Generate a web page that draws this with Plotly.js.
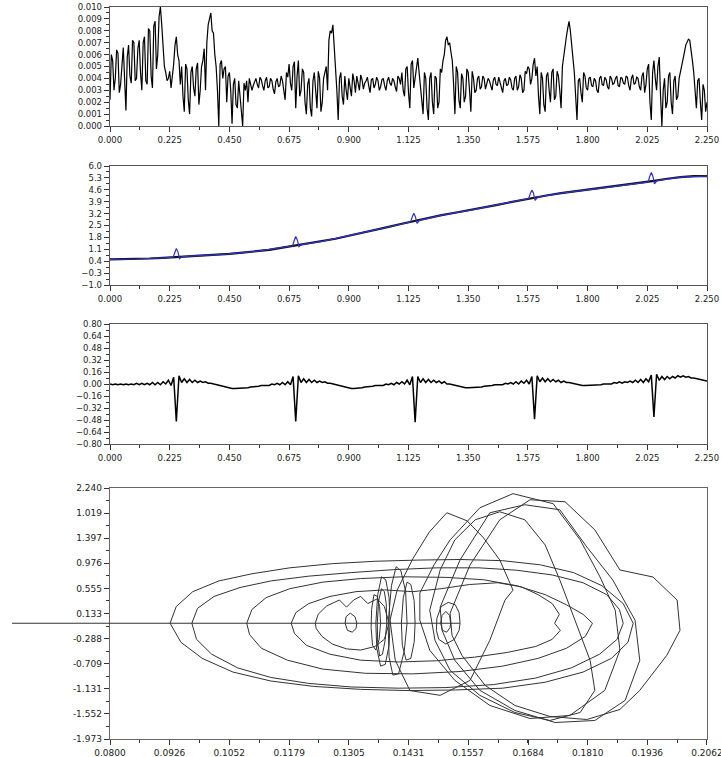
<!DOCTYPE html>
<html>
<head>
<meta charset="utf-8">
<script src="https://cdn.plot.ly/plotly-3.0.1.min.js"></script>
<style>html,body{margin:0;padding:0;background:#fff;}#chart{width:721px;height:757px;}</style>
</head>
<body>
<div id="chart"></div>
<script>
// ---------- Panel 1: noisy signal (x0 = 0, step 0.005) ----------
const p1Signal = [
0.0022,0.0060,0.0055,0.0030,0.0040,0.0064,0.0061,0.0028,0.0035,0.0052,0.0066,0.0040,0.0013,0.0058,0.0068,0.0042,0.0036,0.0072,0.0070,0.0038,
0.0040,0.0065,0.0072,0.0045,0.0030,0.0070,0.0075,0.0038,0.0035,0.0082,0.0080,0.0042,0.0032,0.0084,0.0088,0.0048,0.0060,0.0092,0.0100,0.0085,
0.0070,0.0050,0.0045,0.0038,0.0040,0.0046,0.0032,0.0042,0.0052,0.0068,0.0075,0.0060,0.0055,0.0035,0.0050,0.0025,0.0012,0.0052,0.0048,0.0022,
0.0010,0.0045,0.0050,0.0032,0.0025,0.0048,0.0053,0.0018,0.0030,0.0050,0.0055,0.0065,0.0030,0.0070,0.0085,0.0090,0.0095,0.0080,0.0078,0.0060,
0.0050,0.0030,0.0000,0.0052,0.0055,0.0040,0.0048,0.0050,0.0020,0.0042,0.0045,0.0030,0.0002,0.0035,0.0040,0.0018,0.0015,0.0038,0.0025,0.0012,
0.0000,0.0036,0.0030,0.0038,0.0020,0.0040,0.0036,0.0030,0.0034,0.0037,0.0040,0.0035,0.0032,0.0041,0.0039,0.0034,0.0030,0.0038,0.0041,0.0032,
0.0033,0.0040,0.0038,0.0031,0.0027,0.0037,0.0040,0.0033,0.0034,0.0042,0.0038,0.0030,0.0022,0.0045,0.0041,0.0052,0.0036,0.0030,0.0050,0.0054,
0.0015,0.0042,0.0055,0.0025,0.0030,0.0048,0.0045,0.0020,0.0010,0.0035,0.0040,0.0015,0.0008,0.0038,0.0045,0.0030,0.0015,0.0046,0.0040,0.0012,
0.0020,0.0040,0.0045,0.0050,0.0030,0.0072,0.0080,0.0078,0.0085,0.0068,0.0045,0.0030,0.0005,0.0040,0.0045,0.0025,0.0018,0.0042,0.0030,0.0022,
0.0040,0.0030,0.0025,0.0044,0.0038,0.0028,0.0042,0.0036,0.0030,0.0043,0.0039,0.0031,0.0036,0.0038,0.0041,0.0034,0.0028,0.0039,0.0040,0.0032,
0.0035,0.0041,0.0038,0.0030,0.0033,0.0039,0.0040,0.0034,0.0030,0.0038,0.0041,0.0036,0.0034,0.0040,0.0038,0.0033,0.0029,0.0042,0.0040,0.0035,
0.0045,0.0030,0.0025,0.0048,0.0050,0.0028,0.0015,0.0052,0.0055,0.0032,0.0040,0.0050,0.0057,0.0045,0.0035,0.0020,0.0010,0.0045,0.0040,0.0015,
0.0005,0.0040,0.0045,0.0020,0.0010,0.0042,0.0040,0.0015,0.0020,0.0048,0.0045,0.0055,0.0060,0.0072,0.0075,0.0068,0.0070,0.0062,0.0055,0.0035,
0.0010,0.0050,0.0045,0.0022,0.0015,0.0044,0.0040,0.0020,0.0025,0.0048,0.0045,0.0030,0.0012,0.0046,0.0040,0.0028,0.0030,0.0040,0.0042,0.0031,
0.0033,0.0042,0.0040,0.0031,0.0036,0.0040,0.0038,0.0033,0.0030,0.0039,0.0041,0.0035,0.0034,0.0041,0.0037,0.0032,0.0028,0.0038,0.0040,0.0034,
0.0035,0.0041,0.0039,0.0032,0.0030,0.0040,0.0042,0.0030,0.0033,0.0043,0.0040,0.0028,0.0030,0.0046,0.0044,0.0050,0.0048,0.0035,0.0040,0.0052,
0.0057,0.0042,0.0050,0.0025,0.0010,0.0045,0.0040,0.0018,0.0012,0.0042,0.0045,0.0030,0.0020,0.0045,0.0048,0.0022,0.0025,0.0046,0.0042,0.0030,
0.0015,0.0050,0.0060,0.0068,0.0075,0.0082,0.0088,0.0080,0.0070,0.0060,0.0045,0.0025,0.0005,0.0038,0.0040,0.0028,0.0020,0.0045,0.0042,0.0032,
0.0030,0.0040,0.0041,0.0034,0.0033,0.0040,0.0038,0.0030,0.0028,0.0040,0.0042,0.0035,0.0034,0.0041,0.0039,0.0033,0.0031,0.0042,0.0040,0.0035,
0.0036,0.0040,0.0042,0.0034,0.0033,0.0041,0.0040,0.0036,0.0035,0.0042,0.0041,0.0034,0.0030,0.0040,0.0043,0.0035,0.0036,0.0041,0.0040,0.0033,
0.0030,0.0042,0.0045,0.0028,0.0035,0.0048,0.0052,0.0020,0.0005,0.0045,0.0055,0.0040,0.0030,0.0050,0.0058,0.0025,0.0000,0.0030,0.0040,0.0015,
0.0020,0.0042,0.0045,0.0020,0.0010,0.0038,0.0042,0.0022,0.0025,0.0040,0.0045,0.0050,0.0055,0.0062,0.0068,0.0070,0.0073,0.0072,0.0065,0.0055,
0.0045,0.0030,0.0015,0.0038,0.0040,0.0020,0.0005,0.0035,0.0030,0.0012,0.0020];

// ---------- Panel 2: black trend (x0 = 0, step 0.05) and blue curve ----------
const p2Black = [0.51,0.52,0.53,0.56,0.60,0.64,0.68,0.73,0.78,0.83,0.90,0.98,1.07,1.20,1.33,1.44,1.57,1.72,1.90,2.06,
2.24,2.42,2.60,2.78,2.95,3.11,3.25,3.38,3.52,3.68,3.84,4.00,4.15,4.28,4.40,4.50,4.60,4.70,4.80,4.90,
5.00,5.12,5.25,5.35,5.40,5.41];
const p2BlueX = [0,0.1,0.2,0.238,0.244,0.250,0.256,0.262,0.272,0.35,0.45,0.55,0.65,0.688,0.694,0.700,0.706,0.712,0.722,
0.8,0.9,1.0,1.1,1.133,1.139,1.145,1.151,1.157,1.167,1.25,1.35,1.45,1.55,1.578,1.584,1.590,1.596,1.602,1.612,
1.7,1.8,1.9,2.0,2.028,2.034,2.040,2.046,2.052,2.062,2.15,2.25];
const p2BlueY = [0.51,0.53,0.60,0.63,0.90,1.15,0.95,0.55,0.67,0.73,0.83,0.98,1.20,1.31,1.60,1.85,1.65,1.25,1.38,
1.57,1.90,2.24,2.60,2.70,3.00,3.22,3.02,2.62,2.80,3.11,3.38,3.68,4.00,4.09,4.38,4.58,4.40,3.98,4.17,
4.40,4.60,4.80,5.00,5.05,5.38,5.62,5.40,4.95,5.14,5.35,5.41];

// ---------- Panel 3: spiky signal (x0 = 0, step 0.01) ----------
const p3Signal = [
0.00,-0.01,0.00,-0.01,0.00,-0.01,0.00,-0.01,0.00,-0.01,
0.01,-0.01,0.01,-0.01,0.01,-0.01,0.02,-0.01,0.02,-0.01,
0.03,0.00,0.05,-0.02,0.09,-0.50,0.11,0.02,0.07,0.02,
0.06,0.02,0.05,0.02,0.04,0.02,0.03,0.01,0.01,0.00,
-0.01,-0.02,-0.03,-0.04,-0.05,-0.05,-0.06,-0.06,-0.06,-0.06,
-0.06,-0.05,-0.05,-0.04,-0.04,-0.03,-0.03,-0.02,-0.02,-0.01,
-0.02,0.00,-0.01,0.01,-0.01,0.02,-0.01,0.03,-0.01,0.10,
-0.50,0.11,0.02,0.07,0.02,0.06,0.02,0.05,0.02,0.04,
0.02,0.03,0.01,0.01,0.00,-0.01,-0.02,-0.03,-0.04,-0.05,
-0.05,-0.06,-0.06,-0.06,-0.05,-0.05,-0.04,-0.04,-0.03,-0.03,
-0.02,-0.02,-0.01,-0.02,0.00,-0.01,0.01,-0.01,0.02,0.00,
0.03,0.00,0.05,-0.01,0.10,-0.51,0.10,0.02,0.07,0.02,
0.06,0.02,0.05,0.02,0.04,0.01,0.03,0.00,0.00,-0.01,
-0.02,-0.03,-0.04,-0.04,-0.05,-0.05,-0.05,-0.05,-0.04,-0.04,
-0.04,-0.03,-0.03,-0.02,-0.02,-0.01,-0.01,0.00,-0.01,0.01,
0.00,0.02,0.00,0.03,0.00,0.04,0.01,0.05,0.00,0.10,
-0.47,0.11,0.03,0.08,0.03,0.07,0.03,0.06,0.03,0.05,
0.02,0.04,0.02,0.02,0.01,0.00,0.00,-0.01,-0.02,-0.02,
-0.02,-0.02,-0.02,-0.01,-0.01,-0.01,0.00,0.00,0.01,0.00,
0.02,0.01,0.03,0.01,0.03,0.02,0.04,0.02,0.05,0.02,
0.06,0.02,0.07,0.03,0.12,-0.44,0.13,0.05,0.10,0.06,
0.10,0.07,0.10,0.08,0.11,0.09,0.11,0.09,0.10,0.08,
0.08,0.07,0.06,0.06,0.05,0.04];

// ---------- Panel 4: phase portrait loops ----------
const lineX = [0.0800,0.1540];
const lineY = [-0.03,-0.03];
const h1X = [0.0927,0.0940,0.0975,0.1030,0.1100,0.1180,0.1270,0.1360,0.1450,0.1540,0.1630,0.1710,0.1780,0.1840,0.1885,0.1906,0.1895,0.1860,0.1800,0.1720,0.1630,0.1530,0.1430,0.1330,0.1230,0.1140,0.1060,0.0995,0.0950,0.0927];
const h1Y = [-0.03,0.25,0.50,0.68,0.80,0.90,0.97,1.01,1.03,1.04,1.02,0.95,0.82,0.60,0.30,-0.03,-0.35,-0.62,-0.85,-1.02,-1.12,-1.15,-1.16,-1.14,-1.09,-1.00,-0.85,-0.62,-0.35,-0.03];
const h2X = [0.0973,0.0985,0.1020,0.1075,0.1140,0.1220,0.1310,0.1400,0.1490,0.1580,0.1660,0.1735,0.1800,0.1850,0.1877,0.1885,0.1872,0.1835,0.1775,0.1700,0.1610,0.1510,0.1410,0.1310,0.1220,0.1140,0.1070,0.1015,0.0983,0.0973];
const h2Y = [-0.03,0.22,0.42,0.57,0.68,0.76,0.82,0.87,0.90,0.90,0.86,0.78,0.65,0.45,0.20,-0.03,-0.30,-0.55,-0.78,-0.95,-1.06,-1.11,-1.12,-1.10,-1.04,-0.94,-0.78,-0.55,-0.30,-0.03];
const h3X = [0.1089,0.1100,0.1130,0.1180,0.1250,0.1330,0.1420,0.1510,0.1590,0.1660,0.1720,0.1765,0.1800,0.1820,0.1805,0.1765,0.1705,0.1630,0.1540,0.1440,0.1340,0.1250,0.1175,0.1120,0.1095,0.1089];
const h3Y = [-0.03,0.20,0.40,0.55,0.66,0.72,0.75,0.74,0.70,0.60,0.45,0.28,0.12,-0.03,-0.25,-0.45,-0.62,-0.75,-0.84,-0.88,-0.87,-0.80,-0.65,-0.45,-0.22,-0.03];
const h4X = [0.1183,0.1193,0.1220,0.1265,0.1320,0.1380,0.1440,0.1500,0.1560,0.1620,0.1670,0.1705,0.1735,0.1750,0.1740,0.1752,0.1735,0.1700,0.1640,0.1570,0.1490,0.1410,0.1330,0.1265,0.1215,0.1190,0.1183];
const h4Y = [-0.03,0.15,0.30,0.42,0.50,0.53,0.50,0.55,0.62,0.65,0.58,0.45,0.30,0.12,-0.03,-0.15,-0.30,-0.42,-0.52,-0.60,-0.66,-0.68,-0.65,-0.55,-0.40,-0.20,-0.03];
const h5X = [0.1234,0.1240,0.1258,0.1285,0.1300,0.1315,0.1330,0.1345,0.1365,0.1380,0.1390,0.1380,0.1360,0.1330,0.1300,0.1270,0.1248,0.1236,0.1234];
const h5Y = [-0.03,0.12,0.26,0.36,0.24,0.36,0.42,0.30,0.38,0.25,-0.03,-0.30,-0.42,-0.48,-0.46,-0.38,-0.25,-0.12,-0.03];
const v1X = [0.1385,0.1384,0.1380,0.1374,0.1368,0.1365,0.1366,0.1370,0.1376,0.1382,0.1385];
const v1Y = [-0.03,0.30,0.50,0.55,0.35,-0.03,-0.35,-0.58,-0.55,-0.30,-0.03];
const v2X = [0.1392,0.1390,0.1383,0.1374,0.1366,0.1362,0.1364,0.1372,0.1382,0.1390,0.1392];
const v2Y = [-0.03,0.40,0.70,0.75,0.45,-0.03,-0.45,-0.75,-0.72,-0.40,-0.03];
const v3X = [0.1428,0.1425,0.1415,0.1405,0.1395,0.1388,0.1390,0.1398,0.1410,0.1422,0.1428];
const v3Y = [-0.03,0.50,0.85,0.92,0.60,-0.03,-0.60,-0.90,-0.88,-0.50,-0.03];
const v4X = [0.1445,0.1443,0.1436,0.1428,0.1420,0.1416,0.1418,0.1426,0.1436,0.1443,0.1445];
const v4Y = [-0.03,0.35,0.62,0.66,0.40,-0.03,-0.40,-0.65,-0.62,-0.35,-0.03];
const v5X = [0.1372,0.1370,0.1365,0.1358,0.1353,0.1352,0.1355,0.1362,0.1369,0.1372];
const v5Y = [-0.03,0.25,0.42,0.45,0.20,-0.10,-0.40,-0.48,-0.30,-0.03];
const v6X = [0.1540,0.1538,0.1530,0.1515,0.1500,0.1491,0.1490,0.1495,0.1510,0.1528,0.1538,0.1540];
const v6Y = [-0.03,0.15,0.28,0.32,0.25,0.05,-0.15,-0.30,-0.38,-0.30,-0.15,-0.03];
const v7X = [0.1520,0.1518,0.1510,0.1502,0.1499,0.1503,0.1512,0.1519,0.1520];
const v7Y = [-0.03,0.10,0.17,0.10,-0.03,-0.15,-0.18,-0.10,-0.03];
const v8X = [0.1322,0.1318,0.1308,0.1299,0.1297,0.1302,0.1312,0.1320,0.1322];
const v8Y = [-0.03,0.08,0.14,0.08,-0.03,-0.15,-0.18,-0.12,-0.03];
const a1X = [0.1407,0.1440,0.1475,0.1512,0.1555,0.1590,0.1624,0.1652,0.1635,0.1603,0.1561,0.1498,0.1434,0.1403,0.1392,0.1407];
const a1Y = [0.526,1.05,1.50,1.824,1.689,1.40,1.032,0.526,0.358,-0.316,-0.99,-1.24,-1.16,-0.65,0.02,0.526];
const a2X = [0.1455,0.1485,0.1519,0.1582,0.1652,0.1737,0.1794,0.1836,0.1868,0.1878,0.1846,0.1772,0.1688,0.1603,0.1529,0.1476,0.1455,0.1455];
const a2Y = [0.476,0.95,1.369,1.909,2.145,1.976,1.369,0.746,0.190,-0.484,-1.157,-1.578,-1.629,-1.410,-0.989,-0.484,0.021,0.476];
const a3X = [0.1498,0.1540,0.1603,0.1677,0.1751,0.1808,0.1863,0.1910,0.1920,0.1889,0.1825,0.1741,0.1656,0.1582,0.1529,0.1502,0.1498];
const a3Y = [0.240,1.033,1.824,1.959,1.875,1.251,0.695,0.021,-0.653,-1.325,-1.662,-1.696,-1.494,-1.157,-0.653,-0.148,0.240];
const a4X = [0.1519,0.1561,0.1624,0.1688,0.1762,0.1825,0.1878,0.1948,0.1999,0.2005,0.1977,0.1920,0.1878,0.1808,0.1730,0.1656,0.1593,0.1544,0.1523,0.1519];
const a4Y = [0.139,0.948,1.706,2.043,2.009,1.537,0.864,0.746,0.358,-0.148,-0.569,-1.157,-1.477,-1.646,-1.595,-1.410,-1.073,-0.569,-0.232,0.139];
const a5X = [0.1476,0.1498,0.1529,0.1572,0.1624,0.1677,0.1720,0.1751,0.1783,0.1815,0.1825,0.1794,0.1730,0.1656,0.1582,0.1519,0.1487,0.1476];
const a5Y = [0.190,0.864,1.369,1.706,1.841,1.706,1.284,0.695,0.021,-0.653,-1.157,-1.528,-1.662,-1.528,-1.241,-0.821,-0.316,0.190];

// axis tick labels
const p4XTicks = [0.0800,0.0926,0.1052,0.1179,0.1305,0.1431,0.1557,0.1684,0.1810,0.1936,0.2062];
const p4XText = ["0.0800","0.0926","0.1052","0.1179","0.1305","0.1431","0.1557","0.1684","0.1810","0.1936","0.2062"];
const p4YTicks = [2.240,1.819,1.397,0.976,0.555,0.133,-0.288,-0.709,-1.131,-1.552,-1.973];
const p4YText = ["2.240","1.019","1.397","0.976","0.555","0.133","-0.288","-0.709","-1.131","-1.552","-1.973"];

const W = 721, H = 757;
const xd = [110/W, 707/W];
function yd(top, bot){ return [1 - bot/H, 1 - top/H]; }

const loopColor = '#333';
function loop(x, y){ return {x:x, y:y, xaxis:'x4', yaxis:'y4', type:'scatter', mode:'lines', line:{color:loopColor, width:1}}; }

const traces = [
  {y:p1Signal, x0:0, dx:0.005, xaxis:'x', yaxis:'y', type:'scatter', mode:'lines', line:{color:'#000', width:1.2}},
  {y:p2Black, x0:0, dx:0.05, xaxis:'x2', yaxis:'y2', type:'scatter', mode:'lines', line:{color:'#111', width:2.2}},
  {x:p2BlueX, y:p2BlueY, xaxis:'x2', yaxis:'y2', type:'scatter', mode:'lines', line:{color:'#3030d0', width:1.2}},
  {y:p3Signal, x0:0, dx:0.01, xaxis:'x3', yaxis:'y3', type:'scatter', mode:'lines', line:{color:'#000', width:1.5}},
  loop(lineX, lineY),
  loop(h1X,h1Y), loop(h2X,h2Y), loop(h3X,h3Y), loop(h4X,h4Y), loop(h5X,h5Y),
  loop(v1X,v1Y), loop(v2X,v2Y), loop(v3X,v3Y), loop(v4X,v4Y), loop(v5X,v5Y), loop(v6X,v6Y), loop(v7X,v7Y), loop(v8X,v8Y),
  loop(a1X,a1Y), loop(a2X,a2Y), loop(a3X,a3Y), loop(a4X,a4Y), loop(a5X,a5Y)
];

const tickFont = {family:'DejaVu Sans, sans-serif', size:8.5, color:'#222'};
const baseAxis = {showgrid:false, zeroline:false, showline:true, mirror:true, linecolor:'#555', linewidth:1.3,
  ticks:'outside', ticklen:5, tickwidth:1, tickcolor:'#333', tickfont:tickFont, fixedrange:true};
function xAx(domain, anchor){
  return Object.assign({}, baseAxis, {domain:domain, anchor:anchor, range:[0,2.25], tickmode:'linear', tick0:0, dtick:0.225, tickformat:'.3f',
    ticklabeloverflow:'allow',
    minor:{ticks:'outside', ticklen:3, tick0:0, dtick:0.1125, tickcolor:'#333'}});
}

const layout = {
  width:W, height:H, margin:{l:0,r:0,t:0,b:0}, showlegend:false, hovermode:false,
  paper_bgcolor:'#fff', plot_bgcolor:'#fff',
  xaxis: xAx(xd, 'y'),
  xaxis2: xAx(xd, 'y2'),
  xaxis3: xAx(xd, 'y3'),
  yaxis: Object.assign({}, baseAxis, {domain:yd(7,126), anchor:'x', range:[0,0.010], tickmode:'linear', tick0:0, dtick:0.001, tickformat:'.3f',
    minor:{ticks:'outside', ticklen:3, tick0:0, dtick:0.0005, tickcolor:'#333'}}),
  yaxis2: Object.assign({}, baseAxis, {domain:yd(166,285), anchor:'x2', range:[-1,6], tickmode:'linear', tick0:-1, dtick:0.7, tickformat:'.1f',
    minor:{ticks:'outside', ticklen:3, tick0:-1, dtick:0.35, tickcolor:'#333'}}),
  yaxis3: Object.assign({}, baseAxis, {domain:yd(324,444), anchor:'x3', range:[-0.8,0.8], tickmode:'linear', tick0:-0.8, dtick:0.16, tickformat:'.2f',
    minor:{ticks:'outside', ticklen:3, tick0:-0.8, dtick:0.08, tickcolor:'#333'}}),
  xaxis4: Object.assign({}, baseAxis, {domain:xd, anchor:'y4', range:[0.08,0.20621], tickmode:'array', tickvals:p4XTicks, ticktext:p4XText,
    ticklabeloverflow:'allow',
    linecolor:'#666', tickfont:{family:'DejaVu Sans, sans-serif', size:9, color:'#222'},
    minor:{ticks:'outside', ticklen:3, tick0:0.08, dtick:0.00631, tickcolor:'#333'}}),
  yaxis4: Object.assign({}, baseAxis, {domain:yd(488,739), anchor:'x4', range:[-1.973,2.240], tickmode:'array', tickvals:p4YTicks, ticktext:p4YText,
    linecolor:'#666', tickfont:{family:'DejaVu Sans, sans-serif', size:9, color:'#222'},
    minor:{ticks:'outside', ticklen:3, tick0:-1.973, dtick:0.21065, tickcolor:'#333'}}),
  shapes:[
    {type:'line', xref:'paper', yref:'y4', x0:12/W, x1:110/W, y0:lineY[0], y1:lineY[0], line:{color:loopColor, width:1}}
  ]
};

Plotly.newPlot('chart', traces, layout, {staticPlot:true, displayModeBar:false});
</script>
</body>
</html>
